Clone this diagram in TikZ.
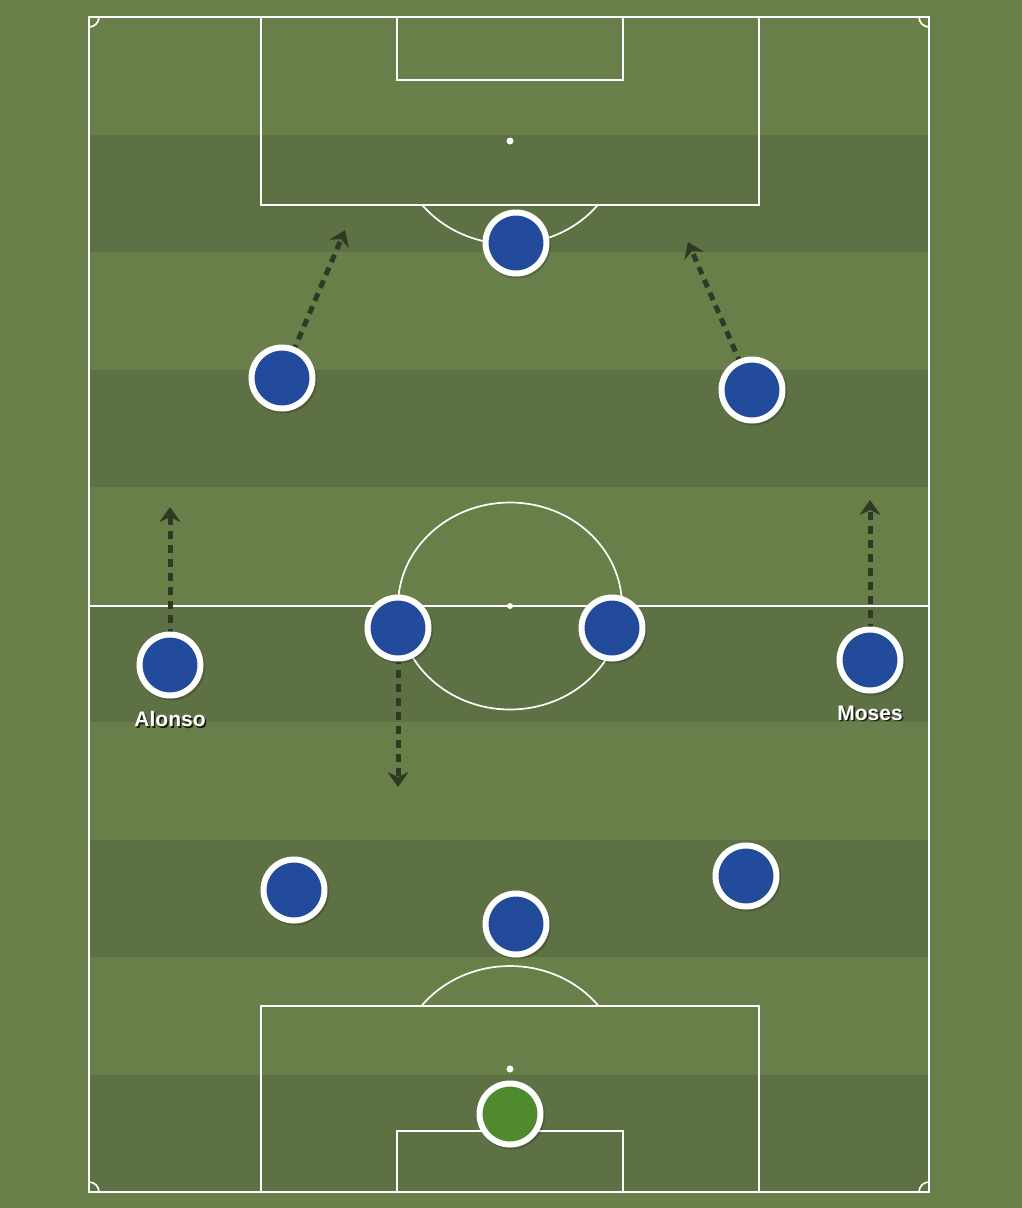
\documentclass[tikz,border=0pt]{standalone}
\usepackage{fontspec}
\newfontfamily\labfont{Liberation Sans}
\usetikzlibrary{arrows.meta}
\pgfdeclarelayer{pitch}
\pgfdeclarelayer{runs}
\pgfsetlayers{pitch,runs,main}
\definecolor{grassL}{HTML}{697F4A}
\definecolor{grassD}{HTML}{5D7144}
\definecolor{pblue}{HTML}{224B9C}
\definecolor{pgreen}{HTML}{4F8A2F}
\definecolor{rundark}{HTML}{2E3A24}
\tikzset{
  pline/.style={draw=white, line width=2.2pt},
  thinline/.style={draw=white, line width=1.7pt},
  player/.style={circle, minimum size=61pt, inner sep=0pt, fill=pblue, draw=white, line width=6pt},
  keeper/.style={player, fill=pgreen},
  pshadow/.style={circle, minimum size=67pt, inner sep=0pt, fill=black, fill opacity=0.18},
  run/.style={draw=rundark, line width=5pt, dash pattern=on 8pt off 6pt, -{Stealth[length=15pt,width=21pt,inset=5pt]}},
  lab/.style={font=\labfont\bfseries\fontsize{21}{25}\selectfont, text=white, inner sep=0pt},
  labsh/.style={font=\labfont\bfseries\fontsize{21}{25}\selectfont, text=black, text opacity=0.75, inner sep=0pt}
}
\begin{document}
\begin{tikzpicture}[x=1pt,y=-1pt]
\begin{pgfonlayer}{pitch}
\useasboundingbox (0,0) rectangle (1022,1208);
\fill[grassL] (0,0) rectangle (1022,1208);
% stripes
\foreach \i in {1,3,5,7,9} {
  \fill[grassD] (89,{17+117.5*\i}) rectangle (929,{17+117.5*(\i+1)});
}
% outline and halfway
\draw[pline] (89,17) rectangle (929,1192);
\draw[pline] (89,606) -- (929,606);
% corner arcs
\begin{scope}
  \clip (89,17) rectangle (929,1192);
  \foreach \cx/\cy in {89/17,929/17,89/1192,929/1192} {
    \draw[thinline] (\cx,\cy) circle (10);
  }
\end{scope}
% centre circle and spot
\draw[thinline] (510,606) ellipse (112 and 103.5);
\fill[white] (510,606) circle (3);
% top penalty area
\draw[pline] (261,17) rectangle (759,205);
\draw[pline] (397,17) rectangle (623,80);
\fill[white] (510,141) circle (3.5);
\begin{scope}
  \clip (89,205) rectangle (929,400);
  \draw[thinline] (510,141) ellipse (112 and 103);
\end{scope}
% bottom penalty area
\draw[pline] (261,1006) rectangle (759,1192);
\draw[pline] (397,1131) rectangle (623,1192);
\fill[white] (510,1069) circle (3.5);
\begin{scope}
  \clip (89,800) rectangle (929,1006);
  \draw[thinline] (510,1069) ellipse (112 and 103);
\end{scope}
% shadows
\foreach \x/\y in {516/243,282/378,752/390,170/665,398/628,612/628,870/660,294/890,516/924,746/876,510/1114} {
  \node[pshadow] at (\x+1.5,\y+2) {};
}
\end{pgfonlayer}
% run targets
\coordinate (tA) at (170,507);
\coordinate (tM) at (870,500);
\coordinate (tL) at (345,230);
\coordinate (tR) at (688,242);
\coordinate (tC) at (398,787);
% players
\node[player] (st) at (516,243) {};
\node[player] (lw) at (282,378) {};
\node[player] (rw) at (752,390) {};
\node[player] (alonso) at (170,665) {};
\node[player] (lcm) at (398,628) {};
\node[player] (rcm) at (612,628) {};
\node[player] (moses) at (870,660) {};
\node[player] (lcb) at (294,890) {};
\node[player] (cb) at (516,924) {};
\node[player] (rcb) at (746,876) {};
\node[keeper] (gk) at (510,1114) {};
% runs, under the players
\begin{pgfonlayer}{runs}
\draw[run] (alonso.center) -- (tA);
\draw[run] (moses.center) -- (tM);
\draw[run] (lw.center) -- (tL);
\draw[run] (rw.center) -- (tR);
\draw[run] (lcm.center) -- (tC);
\end{pgfonlayer}
% labels
\node[labsh] (alonsoSh) at (171.5,720.5) {Alonso};
\node[lab] (alonsoLab) at (170,719) {Alonso};
\node[labsh] (mosesSh) at (871.5,714.5) {Moses};
\node[lab] (mosesLab) at (870,713) {Moses};
\end{tikzpicture}
\end{document}
